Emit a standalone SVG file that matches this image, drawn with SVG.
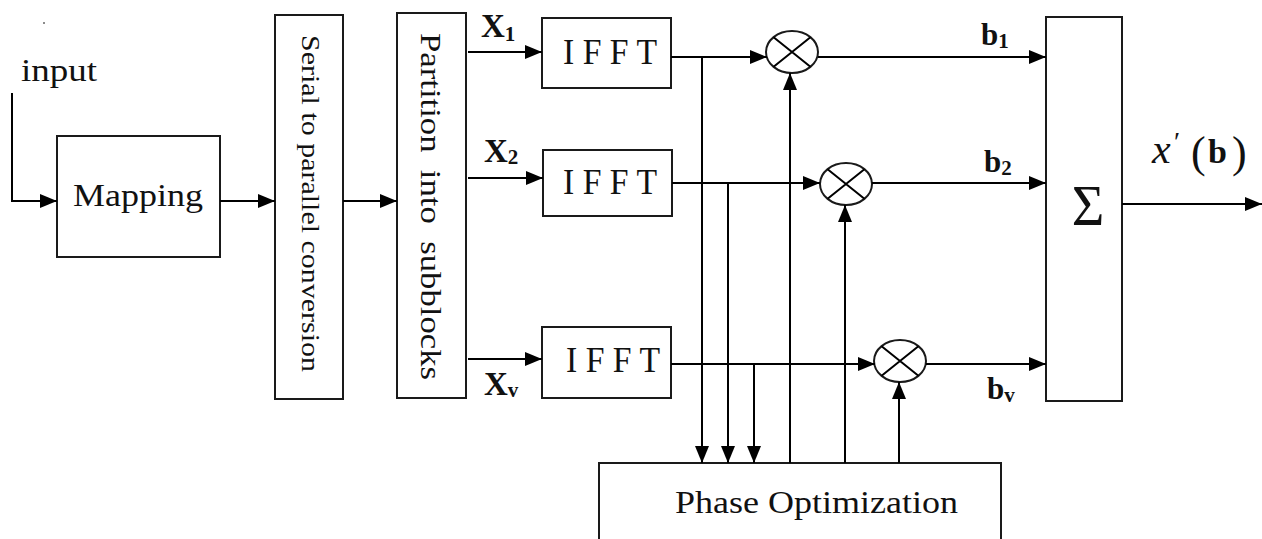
<svg xmlns="http://www.w3.org/2000/svg" width="1262" height="539" viewBox="0 0 1262 539">
<defs>
<marker id="ah" markerUnits="userSpaceOnUse" markerWidth="17" markerHeight="14" refX="17" refY="7" orient="auto">
<path d="M0,0 L17,7 L0,14 z" fill="#000"/>
</marker>
<style>
.box{fill:#fff;stroke:#1a1a1a;stroke-width:2}
.ln{fill:none;stroke:#000;stroke-width:2}
.ar{fill:none;stroke:#000;stroke-width:2;marker-end:url(#ah)}
.t{font-family:"Liberation Serif","Times New Roman",serif;fill:#111}
.b{font-family:"Liberation Serif","Times New Roman",serif;font-weight:bold;fill:#111}
</style>
</defs>
<rect width="1262" height="539" fill="#fff"/>
<circle cx="44" cy="23" r="1" fill="#666"/>
<text class="t" x="21" y="81" font-size="31" textLength="76" lengthAdjust="spacingAndGlyphs">input</text>

<g id="mapping">
<rect class="box" x="57" y="136" width="163" height="121"/>
<text class="t" x="73" y="206" font-size="32" textLength="130" lengthAdjust="spacingAndGlyphs">Mapping</text>
</g>
<g id="serial">
<rect class="box" x="275" y="15" width="68" height="384"/>
<text class="t" transform="translate(302,35) rotate(90)" font-size="26" textLength="337" lengthAdjust="spacingAndGlyphs">Serial to parallel conversion</text>
</g>
<g id="partition">
<rect class="box" x="397" y="13" width="69" height="385"/>
<text class="t" transform="translate(421,33) rotate(90)" font-size="29" textLength="347" lengthAdjust="spacingAndGlyphs" xml:space="preserve">Partition  into  subblocks</text>
</g>
<g id="ifft1">
<rect class="box" x="542" y="18" width="129" height="70"/>
<text class="t" x="563" y="64" font-size="36" textLength="94" lengthAdjust="spacingAndGlyphs">I F F T</text>
</g>
<g id="ifft2">
<rect class="box" x="543" y="150" width="129" height="66"/>
<text class="t" x="563" y="194" font-size="36" textLength="94" lengthAdjust="spacingAndGlyphs">I F F T</text>
</g>
<g id="ifftv">
<rect class="box" x="542" y="327" width="129" height="71"/>
<text class="t" x="566" y="372" font-size="36" textLength="94" lengthAdjust="spacingAndGlyphs">I F F T</text>
</g>
<g id="mult1">
<ellipse class="box" cx="792" cy="52" rx="26" ry="21"/>
<path class="ln" d="M773.6,37.2 L810.4,66.8 M810.4,37.2 L773.6,66.8"/>
</g>
<g id="mult2">
<ellipse class="box" cx="846" cy="184" rx="26" ry="21"/>
<path class="ln" d="M827.6,169.2 L864.4,198.8 M864.4,169.2 L827.6,198.8"/>
</g>
<g id="multv">
<ellipse class="box" cx="900" cy="361" rx="26" ry="21"/>
<path class="ln" d="M881.6,346.2 L918.4,375.8 M918.4,346.2 L881.6,375.8"/>
</g>
<g id="sum">
<rect class="box" x="1046" y="17" width="76" height="384"/>
<text class="t" x="1088" y="225" font-size="56" text-anchor="middle">Σ</text>
</g>
<g id="phase">
<path class="box" d="M599,540 V463 H1001 V540"/>
<text class="t" x="675" y="513" font-size="32" textLength="283" lengthAdjust="spacingAndGlyphs">Phase Optimization</text>
</g>

<g id="connectors">
<path class="ar" d="M12,93 V201 H57"/>
<path class="ar" d="M220,201 H275"/>
<path class="ar" d="M343,201 H397"/>
<path class="ar" d="M468,52 H542"/>
<path class="ar" d="M468,178 H543"/>
<path class="ar" d="M468,359 H542"/>
<path class="ar" d="M671,57 H767"/>
<path class="ar" d="M702,57 V463"/>
<path class="ar" d="M818,57 H1046"/>
<path class="ar" d="M672,183 H820"/>
<path class="ar" d="M728,183 V463"/>
<path class="ar" d="M872,183 H1046"/>
<path class="ar" d="M671,364 H875"/>
<path class="ar" d="M754,364 V463"/>
<path class="ar" d="M926,364 H1046"/>
<path class="ar" d="M790,463 V73"/>
<path class="ar" d="M845,463 V205"/>
<path class="ar" d="M899,463 V382"/>
<path class="ar" d="M1122,204 H1262"/>
</g>

<g id="labels">
<text class="b" x="481" y="37" font-size="33">X<tspan font-size="21" dy="4">1</tspan></text>
<text class="b" x="484" y="162" font-size="33">X<tspan font-size="21" dy="2">2</tspan></text>
<text class="b" x="484" y="395" font-size="33">X<tspan font-size="21" dy="2">v</tspan></text>
<text class="b" x="981" y="45" font-size="31">b<tspan font-size="21" dy="3">1</tspan></text>
<text class="b" x="984" y="172" font-size="31">b<tspan font-size="21" dy="3">2</tspan></text>
<text class="b" x="987" y="399" font-size="31">b<tspan font-size="21" dy="3">v</tspan></text>
<text class="t" x="1152" y="163" font-size="42" font-style="italic">x</text>
<text class="t" x="1174" y="151" font-size="28">′</text>
<text class="t" x="1191" y="167" font-size="44">(</text>
<text class="b" x="1208" y="163" font-size="34">b</text>
<text class="t" x="1232" y="167" font-size="44">)</text>
</g>
</svg>
